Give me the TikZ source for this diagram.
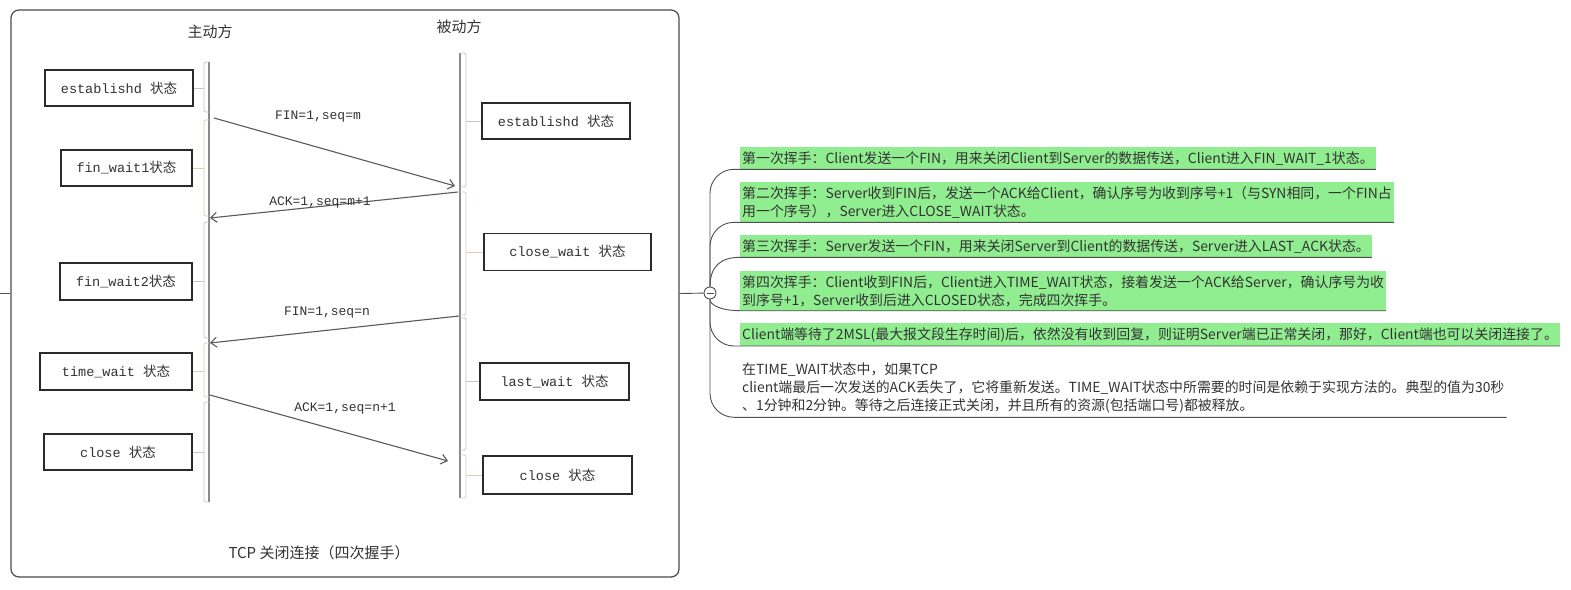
\documentclass[tikz,border=0pt]{standalone}
\usepackage{fontspec}
\setmainfont{Noto Sans CJK SC}
\newfontfamily\cjk{Noto Sans CJK SC}
\newfontfamily\boxmono{Liberation Mono}
\usetikzlibrary{arrows.meta,positioning}
\definecolor{framegray}{HTML}{4A4A4A}
\definecolor{linegray}{HTML}{8A8A8A}
\definecolor{brkgray}{HTML}{C4C6CE}
\definecolor{brkbeige}{HTML}{D9CFB4}
\definecolor{arrowgray}{HTML}{5A5A5A}
\definecolor{boxline}{HTML}{2A2A2A}
\definecolor{textgray}{HTML}{333333}
\definecolor{notegreen}{HTML}{90EE90}
\definecolor{mapgray}{HTML}{505050}

\tikzset{
  statebox/.style={draw=boxline, line width=1.6pt, minimum height=36, inner sep=0pt,
    text=textgray, font=\fontsize{13.5}{13.5}\boxmono},
  lifeline/.style={linegray, line width=1.4pt},
  brk/.style={line width=0.8pt, rounded corners=1.5},
  msg/.style={arrowgray, line width=1.1pt, -{Straight Barb[length=6pt,width=10pt]}},
  msglabel/.style={text=textgray, font=\fontsize{13}{13}\boxmono},
  heading/.style={text=textgray, font=\fontsize{15}{15}\selectfont},
  note/.style={anchor=south west, align=left, inner xsep=2pt, inner ysep=4pt,
    text=textgray, font=\fontsize{13.9}{18}\selectfont},
  hl/.style={note, fill=notegreen},
  branch/.style={mapgray, line width=0.9pt},
}

\begin{document}
\begin{tikzpicture}[x=1pt, y=-1pt]
  \fill[white] (0,0) rectangle (1571,589);
  \useasboundingbox (0,0) rectangle (1571,589);

  % picture frame
  \node[draw=framegray, line width=1.2pt, rounded corners=8, minimum width=668,
    minimum height=567, inner sep=0pt] (img) at (345,293.5) {};
  \coordinate (lstub) at (0,293.5);
  \draw[mapgray, line width=1.4pt] (lstub) -- (img.west);

  % headings
  \node[heading] (act) at (210,32) {主动方};
  \node[heading] (pas) at (459,27) {被动方};

  % lifelines
  \coordinate (Ltop) at (209,62);
  \coordinate (Lbot) at (209,502);
  \coordinate (Rtop) at (460,53);
  \coordinate (Rbot) at (460,498);
  \draw[lifeline] (Ltop) -- (Lbot);
  \draw[lifeline] (Rtop) -- (Rbot);

  % states of the active side
  \node[statebox, minimum width=148] (L1) at (119,88) {establishd {\cjk 状态}};
  \node[statebox, minimum width=131] (L2) at (126.5,168) {fin\_wait1{\cjk 状态}};
  \node[statebox, minimum width=132, minimum height=37] (L3) at (126,281.5) {fin\_wait2{\cjk 状态}};
  \node[statebox, minimum width=152, minimum height=37] (L4) at (116,371.5) {time\_wait {\cjk 状态}};
  \node[statebox, minimum width=148] (L5) at (118,452) {close {\cjk 状态}};

  % states of the passive side
  \node[statebox, minimum width=148] (R1) at (556,121) {establishd {\cjk 状态}};
  \node[statebox, minimum width=167, minimum height=37] (R2) at (567.5,252) {close\_wait {\cjk 状态}};
  \node[statebox, minimum width=149, minimum height=37] (R3) at (554.5,381.5) {last\_wait {\cjk 状态}};
  \node[statebox, minimum width=149, minimum height=38] (R4) at (557.5,475) {close {\cjk 状态}};

  % brackets
  \coordinate (bl) at (204,0);
  \coordinate (br) at (466,0);
  \foreach \ya/\yb/\n/\c in {62/112/L1/brkgray, 120/216/L2/brkbeige, 222/338/L3/brkgray,
      343/397/L4/brkbeige, 402/502/L5/brkgray} {
    \draw[brk, \c] (209,\ya) -- (204,\ya) -- (204,\yb) -- (209,\yb);
    \draw[brk, \c] (\n.east) -- (\n.east -| bl);
  }
  \foreach \ya/\yb/\n/\c in {53/187/R1/brkgray, 192/315/R2/brkbeige, 318/450/R3/brkgray,
      455/498/R4/brkbeige} {
    \draw[brk, \c] (460,\ya) -- (466,\ya) -- (466,\yb) -- (460,\yb);
    \draw[brk, \c] (\n.west) -- (\n.west -| br);
  }

  % messages
  \coordinate (f1s) at (214,118);
  \coordinate (f1e) at (455,186);
  \coordinate (a1s) at (458,192);
  \coordinate (a1e) at (210,218);
  \coordinate (f2s) at (459,316);
  \coordinate (f2e) at (210,343);
  \coordinate (a2s) at (210,395);
  \coordinate (a2e) at (448,461);
  \draw[msg] (f1s) -- (f1e);
  \draw[msg] (a1s) -- (a1e);
  \draw[msg] (f2s) -- (f2e);
  \draw[msg] (a2s) -- (a2e);
  \node[msglabel] (m1) at (318,117) {FIN=1,seq=m};
  \node[msglabel] (m2) at (320,202) {ACK=1,seq=m+1};
  \node[msglabel] (m3) at (327,313) {FIN=1,seq=n};
  \node[msglabel] (m4) at (345,408) {ACK=1,seq=n+1};

  \node[heading] (cap) at (319,553) {TCP 关闭连接（四次握手）};

  % mind map notes
  \node[draw=mapgray, line width=0.9pt, circle, minimum size=12, inner sep=0pt, fill=white] (c) at (710,293) {};
  \draw[branch] (img.east) -- (c);
  \draw[branch] ([xshift=-3.5]c.center) -- ([xshift=3.5]c.center);

  \node[hl] (t1) at (740,169.3) {第一次挥手：Client发送一个FIN，用来关闭Client到Server的数据传送，Client进入FIN\_WAIT\_1状态。};
  \node[hl] (t2) at (740,222.3) {第二次挥手：Server收到FIN后，发送一个ACK给Client，确认序号为收到序号+1（与SYN相同，一个FIN占\\用一个序号），Server进入CLOSE\_WAIT状态。};
  \node[hl] (t3) at (740,257.3) {第三次挥手：Server发送一个FIN，用来关闭Server到Client的数据传送，Server进入LAST\_ACK状态。};
  \node[hl] (t4) at (740,310.7) {第四次挥手：Client收到FIN后，Client进入TIME\_WAIT状态，接着发送一个ACK给Server，确认序号为收\\到序号+1，Server收到后进入CLOSED状态，完成四次挥手。};
  \node[hl] (t5) at (740,346) {Client端等待了2MSL(最大报文段生存时间)后，依然没有收到回复，则证明Server端已正常关闭，那好，Client端也可以关闭连接了。};
  \node[note] (t6) at (740,417.3) {在TIME\_WAIT状态中，如果TCP\\client端最后一次发送的ACK丢失了，它将重新发送。TIME\_WAIT状态中所需要的时间是依赖于实现方法的。典型的值为30秒\\、1分钟和2分钟。等待之后连接正式关闭，并且所有的资源(包括端口号)都被释放。};

  \draw[branch, rounded corners=24] (c) |- (t1.south east);
  \draw[branch, rounded corners=24] (c) |- (t2.south east);
  \draw[branch] (c.north) .. controls (710,266) and (721,257.3) .. (t3.south west) -- (t3.south east);
  \draw[branch] (c.south) .. controls (710,305) and (721,310.7) .. (t4.south west) -- (t4.south east);
  \draw[branch, rounded corners=24] (c) |- (t5.south east);
  \draw[branch, rounded corners=24] (c) |- (t6.south east);
\end{tikzpicture}
\end{document}
